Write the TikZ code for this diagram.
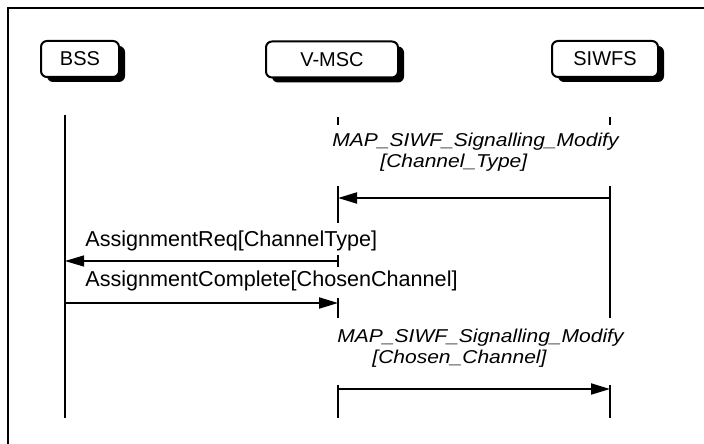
\documentclass[tikz,border=0pt]{standalone}
\usepackage{fontspec}
\setmainfont{Liberation Sans}
\usetikzlibrary{arrows.meta, shadows}

\begin{document}
\begin{tikzpicture}[x=0.5pt, y=-0.5pt,
        entity/.style={draw, line width=1pt, rounded corners=3pt, fill=white,
          minimum height=18pt, inner sep=0pt, font=\fontsize{10}{11}\selectfont,
          drop shadow={shadow xshift=3pt, shadow yshift=-2.5pt, fill=black, opacity=1}},
        life/.style={line width=1pt},
        msg/.style={line width=1pt, -{Triangle[length=9.5pt, width=5.5pt]}},
        txt/.style={inner sep=0pt, anchor=base west, font=\fontsize{10.8}{12}\selectfont},
        itxt/.style={inner sep=0pt, anchor=base west, font=\fontsize{9.3}{10}\selectfont\itshape}]
        \useasboundingbox (0,0) rectangle (704,443);
        \draw[line width=1.2pt] (8,8) rectangle (730,470);

        \node[entity, minimum width=39pt] (bss) at (80,59) {BSS};
        \node[entity, minimum width=66pt] (vmsc) at (332,59.5) {V-MSC};
        \node[entity, minimum width=53pt] (siwfs) at (605,59) {SIWFS};

        \coordinate (b0) at (65,115);
        \coordinate (b1) at (65,418);
        \coordinate (v0) at (338,117);
        \coordinate (v1) at (338,125);
        \coordinate (v2) at (338,186);
        \coordinate (v3) at (338,223);
        \coordinate (v4) at (338,255);
        \coordinate (v5) at (338,267);
        \coordinate (v6) at (338,298);
        \coordinate (v7) at (338,318);
        \coordinate (v8) at (338,385);
        \coordinate (v9) at (338,418);
        \coordinate (s0) at (610,117);
        \coordinate (s1) at (610,125);
        \coordinate (s2) at (610,186);
        \coordinate (s3) at (610,318);
        \coordinate (s4) at (610,385);
        \coordinate (s5) at (610,418);

        \draw[life] (b0) -- (b1);
        \draw[life] (v0) -- (v1) (v2) -- (v3) (v4) -- (v5) (v6) -- (v7) (v8) -- (v9);
        \draw[life] (s0) -- (s1) (s2) -- (s3) (s4) -- (s5);

        \node[itxt] (modify1) at (332,147) {\scalebox{1.13}[1]{MAP\_SIWF\_Signalling\_Modify}};
        \node[itxt] (chtype) at (380,167) {\scalebox{1.13}[1]{[Channel\_Type]}};
        \coordinate (m1s) at (610,198);
        \coordinate (m1v) at (338,198);
        \draw[msg] (m1s) -- (m1v);

        \node[txt] (assreq) at (85,246) {AssignmentReq[ChannelType]};
        \coordinate (m2v) at (338,261);
        \coordinate (m2b) at (65,261);
        \draw[msg, line width=0.6pt] (m2v) -- (m2b);

        \node[txt] (asscompl) at (85,286) {AssignmentComplete[ChosenChannel]};
        \coordinate (m3b) at (65,303);
        \coordinate (m3v) at (338,303);
        \draw[msg] (m3b) -- (m3v);

        \node[itxt] (modify2) at (337,342) {\scalebox{1.13}[1]{MAP\_SIWF\_Signalling\_Modify}};
        \node[itxt] (chosen) at (372,363) {\scalebox{1.13}[1]{[Chosen\_Channel]}};
        \coordinate (m4v) at (338,389);
        \coordinate (m4s) at (610,389);
        \draw[msg] (m4v) -- (m4s);
    \end{tikzpicture}
\end{document}
